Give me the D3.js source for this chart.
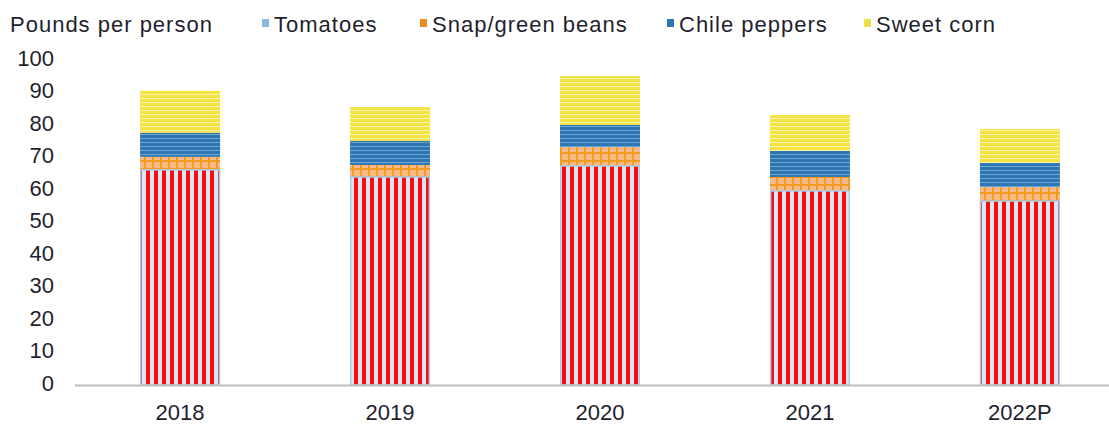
<!DOCTYPE html>
<html>
<head>
<meta charset="utf-8">
<script src="https://cdn.jsdelivr.net/npm/d3@7"></script>
<style>
  body { margin: 0; background: #fff; }
  text { font-family: "Liberation Sans", Arial, sans-serif; fill: #1f1f2e; }
</style>
</head>
<body>
<div id="chart"></div>
<script>
// data (pounds per person)
const years = ['2018', '2019', '2020', '2021', '2022P'];
const seriesNames = ['Tomatoes', 'Snap/green beans', 'Chile peppers', 'Sweet corn'];
const tomatoes = [66.2, 64.0, 67.4, 59.7, 56.6];
const beans = [4.0, 3.7, 5.8, 4.3, 4.3];
const chile = [7.4, 7.4, 6.8, 8.0, 7.4];
const corn = [13.0, 10.4, 15.1, 11.1, 10.5];
const yTicks = [0, 10, 20, 30, 40, 50, 60, 70, 80, 90, 100];

const W = 1109, H = 425;
const margin = {top: 60, left: 75, bottom: 40};

const svg = d3.select('#chart').append('svg')
    .attr('width', W).attr('height', H);

// fill patterns, one per series
const defs = svg.append('defs');

let p = defs.append('pattern').attr('id', 'pat-tom')
    .attr('patternUnits', 'userSpaceOnUse').attr('width', 8).attr('height', 8);
p.append('rect').attr('width', 8).attr('height', 8).attr('fill', '#d6e9f8');
p.append('rect').attr('x', 2).attr('width', 4).attr('height', 8).attr('fill', '#ff0a0a');

p = defs.append('pattern').attr('id', 'pat-bean')
    .attr('patternUnits', 'userSpaceOnUse').attr('width', 8).attr('height', 8);
p.append('rect').attr('width', 8).attr('height', 8).attr('fill', '#f39a1f');
p.append('rect').attr('x', 2).attr('y', 2).attr('width', 6).attr('height', 6).attr('fill', '#f5b98a');

p = defs.append('pattern').attr('id', 'pat-chile')
    .attr('patternUnits', 'userSpaceOnUse').attr('width', 8).attr('height', 4);
p.append('rect').attr('width', 8).attr('height', 4).attr('fill', '#2d76b2');
p.append('rect').attr('y', 2).attr('width', 8).attr('height', 1).attr('fill', '#6fa7d4');

p = defs.append('pattern').attr('id', 'pat-corn')
    .attr('patternUnits', 'userSpaceOnUse').attr('width', 8).attr('height', 4);
p.append('rect').attr('width', 8).attr('height', 4).attr('fill', '#f4e342');
p.append('rect').attr('y', 2).attr('width', 8).attr('height', 1).attr('fill', '#faf3a8');

const fills = ['url(#pat-tom)', 'url(#pat-bean)', 'url(#pat-chile)', 'url(#pat-corn)'];
const legendColors = ['#8fb6dd', '#ee8a22', '#2d76b2', '#efe04a'];

const x = d3.scaleBand().domain(years).range([margin.left, margin.left + 1050]).paddingInner(0.619).paddingOuter(0.31);
const y = d3.scaleLinear().domain([0, 100]).range([H - margin.bottom, margin.top]);

// stack the four series
const rows = years.map((yr, i) => ({
    year: yr,
    'Tomatoes': tomatoes[i],
    'Snap/green beans': beans[i],
    'Chile peppers': chile[i],
    'Sweet corn': corn[i]
}));
const stacked = d3.stack().keys(seriesNames)(rows);

const bw = 80;
svg.append('g')
  .selectAll('g')
  .data(stacked)
  .enter().append('g')
    .attr('fill', (d, i) => fills[i])
  .selectAll('rect')
  .data(d => d)
  .enter().append('rect')
    .attr('x', d => x(d.data.year) + x.bandwidth() / 2 - bw / 2)
    .attr('y', d => y(d[1]))
    .attr('width', bw)
    .attr('height', d => y(d[0]) - y(d[1]));

// thin light-blue edge on the tomato segment
svg.append('g').selectAll('rect')
  .data(stacked[0])
  .enter().append('rect')
    .attr('x', d => x(d.data.year) + x.bandwidth() / 2 - bw / 2 + 0.75)
    .attr('y', d => y(d[1]))
    .attr('width', bw - 1.5)
    .attr('height', d => y(d[0]) - y(d[1]))
    .attr('fill', 'none')
    .attr('stroke', '#a9cdec')
    .attr('stroke-width', 1.5);

// baseline
svg.append('line')
    .attr('x1', margin.left).attr('x2', W)
    .attr('y1', y(0) + 0.5).attr('y2', y(0) + 0.5)
    .attr('stroke', '#bdbdbd').attr('stroke-width', 2);

// y tick labels
svg.append('g').selectAll('text')
  .data(yTicks)
  .enter().append('text')
    .attr('x', 54)
    .attr('y', d => y(d) - 2)
    .attr('dy', '0.35em')
    .attr('text-anchor', 'end')
    .attr('font-size', 22)
    .text(d => d);

// x labels
svg.append('g').selectAll('text')
  .data(years)
  .enter().append('text')
    .attr('x', d => x(d) + x.bandwidth() / 2)
    .attr('y', 420)
    .attr('text-anchor', 'middle')
    .attr('font-size', 22)
    .text(d => d);

// title + legend
svg.append('text')
    .attr('x', 10).attr('y', 32)
    .attr('font-size', 22)
    .attr('letter-spacing', 1)
    .text('Pounds per person');

const legendX = [262, 420, 667, 864];
const leg = svg.append('g').selectAll('g')
  .data(seriesNames)
  .enter().append('g')
    .attr('transform', (d, i) => 'translate(' + legendX[i] + ',0)');
leg.append('rect')
    .attr('y', 19).attr('width', 7).attr('height', 8)
    .attr('fill', (d, i) => legendColors[i]);
leg.append('text')
    .attr('x', 12).attr('y', 32)
    .attr('font-size', 22)
    .attr('letter-spacing', 1)
    .text(d => d);
</script>
</body>
</html>
